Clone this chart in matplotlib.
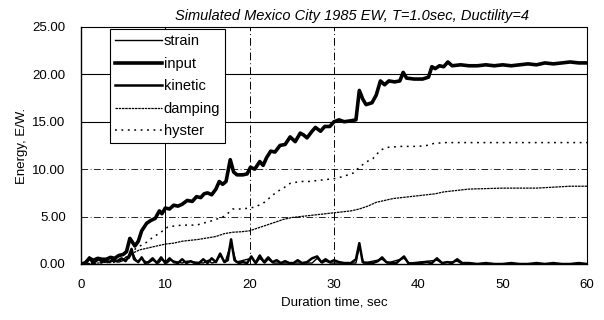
import matplotlib
matplotlib.use("Agg")
import matplotlib.pyplot as plt

plt.rcParams['font.family'] = ['Liberation Sans', 'DejaVu Sans']

title = "Simulated Mexico City 1985 EW, T=1.0sec, Ductility=4"
xlabel = "Duration time, sec"
ylabel = "Energy, E/W."

input_t = [0, 0.5, 1.0, 1.5, 2.0, 2.5, 3.0, 3.5, 4.0, 4.5, 5.0, 5.4, 5.8, 6.4, 6.8, 7.2, 7.8, 8.3, 8.8,
           9.3, 9.6, 10.0, 10.5, 11.0, 11.5, 12.0, 12.6, 13.2, 13.7, 14.2, 14.6, 15.0, 15.5, 16.0, 16.4,
           16.8, 17.2, 17.7, 18.1, 18.5, 19.2, 19.7, 20.1, 20.6, 21.2, 21.6, 22.0, 22.5, 23.0, 23.6, 24.2,
           24.8, 25.4, 26.0, 26.4, 26.8, 27.4, 27.8, 28.4, 28.9, 29.5, 30.0, 30.6, 31.2, 32.0, 32.6, 33.0,
           33.4, 33.8, 34.5, 35.0, 35.5, 36.0, 36.5, 37.2, 37.8, 38.2, 38.6, 39.5, 40.5, 41.2, 41.6, 42.0,
           42.5, 43.0, 43.5, 44.0, 45.0, 46.0, 47.0, 48.0, 49.0, 50.0, 51.0, 52.0, 53.0, 54.0, 55.0, 56.0,
           57.0, 58.0, 59.0, 60.0]
input_e = [0, 0.1, 0.6, 0.4, 0.6, 0.5, 0.5, 0.7, 0.6, 0.9, 1.0, 1.3, 2.7, 1.9, 2.4, 3.5, 4.3, 4.6, 4.8,
           5.6, 5.3, 5.9, 5.8, 6.2, 6.1, 6.3, 6.7, 6.6, 7.1, 7.0, 7.4, 7.5, 7.3, 7.9, 8.7,
           8.4, 8.7, 11.0, 9.7, 9.4, 9.4, 9.5, 10.2, 10.0, 10.8, 10.4, 11.2, 11.9, 11.8, 12.5, 12.6,
           13.4, 12.9, 13.8, 13.6, 13.3, 14.0, 14.4, 14.0, 14.5, 14.5, 15.0, 15.2, 15.0, 15.1, 15.2, 18.3,
           17.4, 16.8, 17.0, 17.8, 19.3, 18.9, 19.3, 19.2, 19.3, 20.2, 19.6, 19.5, 19.5, 19.7, 20.8, 20.6,
           20.9, 20.8, 21.3, 20.9, 21.0, 20.9, 20.9, 21.0, 20.9, 21.0, 20.9, 21.0, 21.1, 21.0, 21.2, 21.1,
           21.2, 21.3, 21.2, 21.2]

kin_t = [0, 0.6, 1.0, 1.4, 1.8, 2.1, 2.5, 3.0, 3.4, 3.8, 4.3, 4.8, 5.3, 5.7, 6.0, 6.3, 6.8, 7.2, 7.6,
         8.0, 8.5, 9.0, 9.5, 10.0, 10.5, 11.0, 11.5, 12.0, 12.5, 13.0, 13.5, 14.0, 14.5, 15.0, 15.5,
         16.0, 16.5, 17.0, 17.4, 17.8, 18.2, 18.7, 19.2, 19.7, 20.2, 20.7, 21.2, 21.7, 22.2, 22.7, 23.2,
         23.7, 24.2, 24.7, 25.2, 25.7, 26.2, 26.8, 27.4, 28.0, 28.5, 29.0, 29.5, 30.0, 30.6, 31.2, 32.0,
         32.6, 33.0, 33.4, 34.0, 34.6, 35.2, 35.7, 36.2, 36.8, 37.4, 37.9, 38.3, 38.8, 39.4, 40.2, 41.0,
         41.6, 42.2, 42.8, 43.4, 44.0, 44.6, 45.2, 46, 47, 48, 49, 50, 51, 52, 53, 54, 55, 56, 57, 58,
         59, 60]
kin_e = [0, 0.1, 0.7, 0.1, 0.4, 0.6, 0.2, 0.4, 0.2, 0.5, 0.3, 0.6, 0.3, 0.9, 1.6, 0.5, 0.2, 0.7, 0.1,
         0.2, 0.6, 0.1, 0.7, 0.1, 0.6, 0.2, 0.1, 0.5, 0.1, 0.3, 0.1, 0.1, 0.5, 0.1, 0.6,
         0.2, 1.1, 0.2, 0.4, 2.6, 0.4, 0.1, 0.2, 0.1, 0.8, 0.1, 0.9, 0.2, 0.7, 0.2, 0.4,
         0.1, 0.3, 0.1, 0.1, 0.4, 0.1, 0.2, 0.6, 0.8, 0.2, 0.5, 0.2, 0.4, 0.2, 0.1, 0.1,
         0.5, 2.2, 0.2, 0.1, 0.1, 0.3, 0.7, 0.2, 0.1, 0.1, 0.5, 0.8, 0.1, 0.0, 0.1, 0.2,
         0.1, 0.6, 0.1, 0.2, 0.1, 0.5, 0.1, 0.1, 0.0, 0.1, 0.0, 0.0, 0.1, 0.0, 0.0, 0.1, 0.0, 0.1, 0.0, 0.0,
         0.1, 0.0]

strain_t = [0, 1.0, 1.5, 2.1, 2.8, 3.8, 4.5, 5.7, 6.1, 6.6, 7.2, 8.0, 8.5, 9.2, 9.6, 10.2, 10.6, 12.0,
            12.6, 14.5, 15.1, 15.5, 16.0, 16.5, 17.1, 17.8, 18.4, 20.2, 20.8, 21.2, 21.8, 22.2, 22.8,
            27.4, 28.0, 28.6, 29.0, 29.6, 32.6, 33.0, 33.5, 35.7, 36.3, 38.3, 38.9, 42.2, 42.8, 44.6,
            45.2, 60]
strain_e = [0, 0.5, 0.1, 0.4, 0.2, 0.3, 0.2, 0.6, 1.2, 0.3, 0.5, 0.1, 0.4, 0.1, 0.5, 0.1, 0.4, 0.1,
            0.3, 0.1, 0.4, 0.1, 0.2, 0.9, 0.2, 2.2, 0.2, 0.6, 0.1, 0.6, 0.1, 0.5, 0.1,
            0.1, 0.6, 0.1, 0.3, 0.1, 0.1, 1.8, 0.1, 0.5, 0.1, 0.6, 0.1, 0.4, 0.1, 0.3,
            0.0, 0.0]

damp_t = [0, 2, 4, 5, 6, 7, 8, 9, 10, 11, 12, 13, 14, 15, 16, 17, 18, 19, 20, 21, 22, 23, 24, 25, 26,
          27, 28, 29, 30, 31, 32, 33, 34, 35, 36, 37, 38, 39, 40, 41, 42, 43, 44, 45, 46, 48, 50, 52,
          54, 56, 58, 60]
damp_e = [0, 0.1, 0.3, 0.5, 1.1, 1.5, 1.7, 1.9, 2.1, 2.2, 2.4, 2.5, 2.6, 2.75, 2.9, 3.2, 3.35, 3.4,
          3.5, 3.8, 4.1, 4.4, 4.7, 4.9, 5.0, 5.1, 5.2, 5.3, 5.4, 5.5, 5.6, 5.8, 6.1, 6.5, 6.7, 6.9,
          7.0, 7.1, 7.2, 7.3, 7.4, 7.6, 7.7, 7.8, 7.9, 7.95, 8.0, 8.0, 8.0, 8.1, 8.2, 8.2]

hyst_t = [0, 4, 5, 5.8, 6.3, 7, 7.8, 8.5, 9.4, 10.3, 11, 12, 13, 13.7, 14.5, 15.7, 16.9, 17.5, 18, 19,
          20, 20.6, 21.6, 22.4, 23.2, 24, 24.8, 26, 27, 28, 29, 30, 31, 32.3, 33, 33.9, 34.6, 35.5,
          36.3, 38, 40, 41, 41.8, 43, 45, 50, 55, 60]
hyst_e = [0, 0.2, 0.5, 1.0, 1.5, 1.9, 2.3, 2.8, 3.3, 3.9, 4.0, 4.1, 4.1, 4.1, 4.3, 4.6, 5.0, 5.4, 5.8,
          5.8, 5.9, 6.0, 6.4, 7.0, 7.6, 8.0, 8.5, 8.7, 8.7, 8.8, 8.9, 9.0, 9.2, 9.6, 10.2, 10.8, 11.1,
          12.0, 12.3, 12.4, 12.4, 12.5, 12.7, 12.8, 12.8, 12.8, 12.8, 12.8]

xticks = [0, 10, 20, 30, 40, 50, 60]
yticks = [0, 5, 10, 15, 20, 25]

fig = plt.figure(figsize=(6.04, 3.2), dpi=100)
ax = fig.add_axes([0.134, 0.175, 0.838, 0.741])

# grid lines
ax.axhline(20, color='black', lw=0.8, zorder=1)
ax.axhline(15, color='black', lw=0.8, zorder=1)
ax.axhline(10, color='black', lw=0.6, ls=(0, (8, 3, 1, 3)), zorder=1)
ax.axhline(5, color='black', lw=0.6, ls=(0, (8, 3, 1, 3)), zorder=1)
ax.axvline(10, color='black', lw=0.7, zorder=1)
ax.axvline(20, color='black', lw=0.7, ls=(0, (8, 3, 1, 3)), zorder=1)
ax.axvline(30, color='black', lw=0.7, ls=(0, (8, 3, 1, 3)), zorder=1)

ax.plot(strain_t, strain_e, color='black', lw=1.0, label='strain', zorder=3)
ax.plot(input_t, input_e, color='black', lw=2.6, label='input', zorder=4)
ax.plot(kin_t, kin_e, color='black', lw=1.8, label='kinetic', zorder=3)
ax.plot(damp_t, damp_e, color='black', lw=0.9, ls=(0, (2, 0.6)), label='damping', zorder=3)
ax.plot(hyst_t, hyst_e, color='black', lw=1.1, ls=(0, (1.2, 3)), label='hyster', zorder=3)

ax.set_xlim(0, 60)
ax.set_ylim(0, 25)
ax.set_xticks(xticks)
ax.set_yticks(yticks)
ax.set_yticklabels([f"{v:.2f}" for v in yticks])
ax.tick_params(length=0, labelsize=9.5)
ax.tick_params(axis='y', pad=11)
ax.tick_params(axis='x', pad=11)
for s in ['top', 'right']:
    ax.spines[s].set_linestyle((0, (3, 1)))
    ax.spines[s].set_linewidth(0.8)
for s in ['left', 'bottom']:
    ax.spines[s].set_linewidth(1.0)

ax.set_title(title, fontsize=10.5, style='italic', x=0.535, pad=5)
ax.set_xlabel(xlabel, fontsize=9.5, labelpad=4)
ax.set_ylabel(ylabel, fontsize=9.5, labelpad=3)

leg = ax.legend(loc='upper left', bbox_to_anchor=(0.057, 0.99), fontsize=10.5, handlelength=3.2,
                handletextpad=0.15, labelspacing=0.58, borderpad=0.35, fancybox=False,
                framealpha=1, edgecolor='black', borderaxespad=0)
leg.get_frame().set_linewidth(0.8)

fig.savefig('out.png', dpi=100)
